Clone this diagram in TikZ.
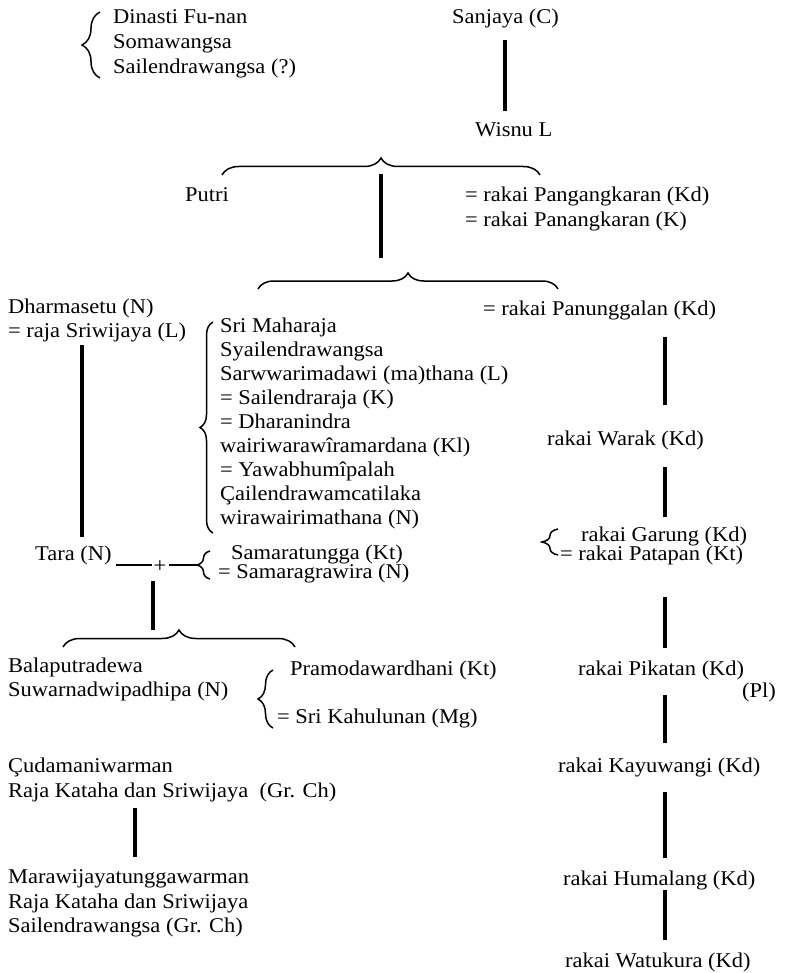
\documentclass[tikz,border=0pt]{standalone}
\usepackage{fontspec}
\setmainfont{Liberation Serif}[FakeStretch=1.07]
\usetikzlibrary{decorations.pathreplacing}
\begin{document}
\begin{tikzpicture}[x=1pt,y=-1pt,
  txt/.style={anchor=base west, inner sep=0pt, font=\fontsize{21}{24}\selectfont},
  vline/.style={line width=3.6pt},
  hline/.style={line width=1.3pt},
  brc/.style={decorate, decoration={brace, amplitude=#1}, line width=1.5pt}]
\useasboundingbox[fill=white] (0,0) rectangle (790,973);

% texts
\node[txt] (n1) at (113,24) {Dinasti Fu-nan};
\node[txt] (n2) at (113,49) {Somawangsa};
\node[txt] (n3) at (113,74) {Sailendrawangsa (?)};
\node[txt] (sanjaya) at (452,24) {Sanjaya (C)};
\node[txt] (wisnu) at (475,137) {Wisnu L};
\node[txt] (putri) at (185,202) {Putri};
\node[txt] (pang1) at (465,202) {= rakai Pangangkaran (Kd)};
\node[txt] (pang2) at (465,227) {= rakai Panangkaran (K)};
\node[txt] (dharma) at (8,313) {Dharmasetu (N)};
\node[txt] (dharma2) at (8,337) {= raja Sriwijaya (L)};
\node[txt] (panung) at (483,315) {= rakai Panunggalan (Kd)};
\node[txt] (s1) at (220,332) {Sri Maharaja};
\node[txt] (s2) at (220,356) {Syailendrawangsa};
\node[txt] (s3) at (220,380) {Sarwwarimadawi (ma)thana (L)};
\node[txt] (s4) at (220,404) {= Sailendraraja (K)};
\node[txt] (s5) at (220,428) {= Dharanindra};
\node[txt] (s6) at (220,452) {wairiwarawîramardana (Kl)};
\node[txt] (s7) at (220,476) {= Yawabhumîpalah};
\node[txt] (s8) at (220,500) {Çailendrawamcatilaka};
\node[txt] (s9) at (220,524) {wirawairimathana (N)};
\node[txt] (warak) at (547,445) {rakai Warak (Kd)};
\node[txt] (garung) at (581,541) {rakai Garung (Kd)};
\node[txt] (patapan) at (560,560) {= rakai Patapan (Kt)};
\node[txt] (tara) at (35,560) {Tara (N)};
\node[txt, anchor=center] (plus) at (160,567) {+};
\node[txt] (samara) at (231,559) {Samaratungga (Kt)};
\node[txt] (samara2) at (218,578) {= Samaragrawira (N)};
\node[txt] (bala) at (8,672) {Balaputradewa};
\node[txt] (suwarna) at (8,696) {Suwarnadwipadhipa (N)};
\node[txt] (pramo) at (290,675) {Pramodawardhani (Kt)};
\node[txt] (kahu) at (277,723) {= Sri Kahulunan (Mg)};
\node[txt] (pikatan) at (578,675) {rakai Pikatan (Kd)};
\node[txt] (pl) at (742,697) {(Pl)};
\node[txt] (cuda) at (8,772) {Çudamaniwarman};
\node[txt] (raja1) at (8,797) {Raja Kataha dan Sriwijaya\ \ (Gr. Ch)};
\node[txt] (kayu) at (558,772) {rakai Kayuwangi (Kd)};
\node[txt] (mara) at (8,883) {Marawijayatunggawarman};
\node[txt] (raja2) at (8,908) {Raja Kataha dan Sriwijaya};
\node[txt] (sail2) at (8,932) {Sailendrawangsa (Gr. Ch)};
\node[txt] (huma) at (563,885) {rakai Humalang (Kd)};
\node[txt] (watu) at (565,967) {rakai Watukura (Kd)};

% line end coordinates
\coordinate (a1) at (505,40);  \coordinate (a2) at (505,111);
\coordinate (b1) at (381,174); \coordinate (b2) at (381,258);
\coordinate (c1) at (82,345);  \coordinate (c2) at (82,537);
\coordinate (d1) at (665,337); \coordinate (d2) at (665,405);
\coordinate (e1) at (665,467); \coordinate (e2) at (665,517);
\coordinate (f1) at (153,581); \coordinate (f2) at (153,630);
\coordinate (g1) at (665,597); \coordinate (g2) at (665,648);
\coordinate (h1) at (665,695); \coordinate (h2) at (665,743);
\coordinate (i1) at (135,808); \coordinate (i2) at (135,857);
\coordinate (j1) at (665,792); \coordinate (j2) at (665,858);
\coordinate (k1) at (665,890); \coordinate (k2) at (665,940);
\coordinate (t1) at (116,565); \coordinate (t2) at (152,565);
\coordinate (t3) at (169,565); \coordinate (t4) at (197,565);

\foreach \p in {a,b,c,d,e,f,g,h,i,j,k}
  \draw[vline] (\p1) -- (\p2);
\draw[hline] (t1) -- (t2);
\draw[hline] (t3) -- (t4);

% braces
\coordinate (br1a) at (222,175); \coordinate (br1b) at (540,175);
\coordinate (br2a) at (258,289); \coordinate (br2b) at (558,289);
\coordinate (br3a) at (63,647);  \coordinate (br3b) at (295,647);
\draw[brc=17pt] (br1a) -- (br1b);
\draw[brc=16pt] (br2a) -- (br2b);
\draw[brc=17pt] (br3a) -- (br3b);

\coordinate (v1a) at (100,78);  \coordinate (v1b) at (100,12);
\coordinate (v2a) at (213,533); \coordinate (v2b) at (213,322);
\coordinate (v3a) at (210,579); \coordinate (v3b) at (210,551);
\coordinate (v4a) at (558,555); \coordinate (v4b) at (558,529);
\coordinate (v5a) at (273,728); \coordinate (v5b) at (273,670);
\draw[brc=18pt] (v1a) -- (v1b);
\draw[brc=13pt] (v2a) -- (v2b);
\draw[brc=13pt] (v3a) -- (v3b);
\draw[brc=16pt] (v4a) -- (v4b);
\draw[brc=15pt] (v5a) -- (v5b);
\end{tikzpicture}
\end{document}
